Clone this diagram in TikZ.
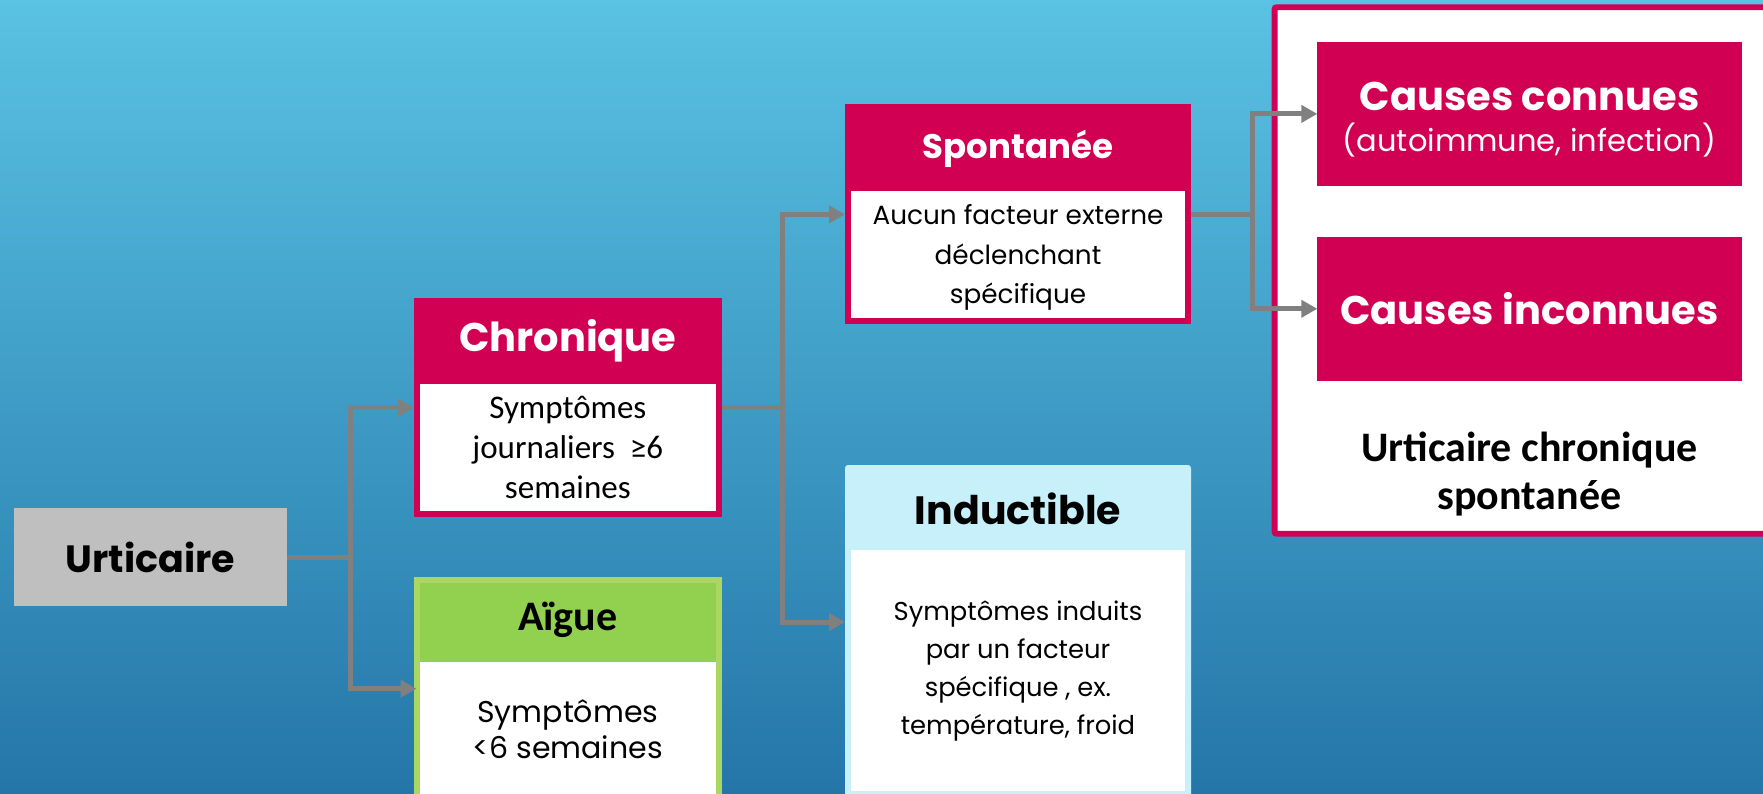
\documentclass[tikz,border=0pt]{standalone}
\usepackage{fontspec}
\setmainfont{Carlito}
\newfontfamily\gothic{Poppins}
\newfontfamily\calib{Carlito}
\usetikzlibrary{arrows.meta}
\definecolor{crim}{RGB}{210,0,82}
\definecolor{grn}{RGB}{146,208,80}
\definecolor{grnb}{RGB}{170,215,96}
\definecolor{lblue}{RGB}{200,240,250}
\definecolor{gry}{RGB}{191,191,191}
\definecolor{conn}{RGB}{128,128,128}
\definecolor{bgtop}{RGB}{90,194,227}
\definecolor{bgbot}{RGB}{36,118,168}
\begin{document}
\begin{tikzpicture}[x=1pt,y=-1pt,
  box/.style={anchor=north west, inner sep=0pt, outer sep=0pt, draw=none},
  txt/.style={inner sep=0pt, outer sep=0pt, align=center},
  arr/.style={draw=conn, line width=5pt, line join=miter,
    -{Triangle[length=16pt,width=17pt]}}]
\useasboundingbox (0,0) rectangle (1763,794);
\clip (0,0) rectangle (1763,794);
\shade[top color=bgtop, bottom color=bgbot] (0,0) rectangle (1763,794);

% Urticaire
\node[box, fill=gry, minimum width=273pt, minimum height=97.4pt] (urt) at (14,508.3) {};
\node[txt, font=\gothic\bfseries\fontsize{38}{42}\selectfont] (urtT) at (urt.center) {Urticaire};

% Chronique
\node[box, fill=crim, minimum width=307.5pt, minimum height=219pt] (chron) at (414,298.3) {};
\node[box, fill=white, minimum width=296pt, minimum height=127.3pt] (chronB) at (419.8,384) {};
\node[txt, text=white, font=\gothic\bfseries\fontsize{40}{44}\selectfont] (chronT) at (567.8,341) {Chronique};
\node[txt, font=\calib\fontsize{33}{40}\selectfont] (chronX) at (chronB.center) {Symptômes\\journaliers\ \ ≥6\\semaines};

% Aigue
\node[box, fill=grn, draw=grnb, line width=6pt, minimum width=302pt, minimum height=240pt] (aig) at (416.5,579.7) {};
\node[box, fill=white, minimum width=296pt, minimum height=140pt] (aigB) at (419.8,661.7) {};
\node[txt, font=\calib\bfseries\fontsize{42}{46}\selectfont] (aigT) at (567.8,620) {Aïgue};
\node[txt, font=\gothic\fontsize{30}{36}\selectfont] (aigX) at (567.8,729) {Symptômes\\<6 semaines};

% Spontanee
\node[box, fill=crim, minimum width=346pt, minimum height=219.1pt] (spont) at (845,104.4) {};
\node[box, fill=white, minimum width=334.6pt, minimum height=127.4pt] (spontB) at (850.7,190.6) {};
\node[txt, text=white, font=\gothic\bfseries\fontsize{34}{38}\selectfont] (spontT) at (1018,149) {Spontanée};
\node[txt, font=\gothic\fontsize{26.3}{39.5}\selectfont] (spontX) at ([yshift=-3.5pt]spontB.center) {Aucun facteur externe\\déclenchant\\spécifique};

% Inductible
\node[box, fill=lblue, rounded corners=3pt, minimum width=346pt, minimum height=340pt] (ind) at (845,465) {};
\node[box, fill=white, minimum width=334.6pt, minimum height=241pt] (indB) at (850.7,550) {};
\node[txt, font=\gothic\bfseries\fontsize{39.5}{43}\selectfont] (indT) at (1018,509) {Inductible};
\node[txt, font=\gothic\fontsize{25.8}{38}\selectfont] (indX) at (1018,671) {Symptômes induits\\par un facteur\\spécifique , ex.\\température, froid};

% Urticaire chronique spontanee frame
\node[box, fill=white, draw=crim, line width=5.8pt, rounded corners=2pt, minimum width=600pt, minimum height=526.5pt] (ucs) at (1274.6,7.2) {};
\node[box, fill=crim, minimum width=424.4pt, minimum height=143.6pt] (cc) at (1317.3,42.1) {};
\node[box, fill=crim, minimum width=424.4pt, minimum height=143.6pt] (ci) at (1317.3,237) {};
\node[txt, text=white, font=\gothic\bfseries\fontsize{40}{44}\selectfont] (ccT) at (1529.5,96.5) {Causes connues};
\node[txt, text=white, font=\gothic\fontsize{30.5}{33}\selectfont] (ccX) at (1529.5,140) {(autoimmune, infection)};
\node[txt, text=white, font=\gothic\bfseries\fontsize{40}{44}\selectfont] (ciT) at (ci.center) {Causes inconnues};
\node[txt, font=\calib\bfseries\fontsize{42}{48}\selectfont] (ucsT) at (1529.5,474) {Urticaire chronique\\spontanée};

% connectors
\draw[arr] (urt.east) -- ++(63.5,0) |- ([yshift=-109.4pt]chron.north west);
\draw[arr] (urt.east) -- ++(63.5,0) |- ([yshift=-109pt]aig.north west);
\draw[arr] ([yshift=-109.4pt]chron.north east) -- ++(61,0) |- ([yshift=-110pt]spont.north west);
\draw[arr] ([yshift=-109.4pt]chron.north east) -- ++(61,0) |- ([yshift=-157pt]ind.north west);
\draw[arr] ([yshift=-110pt]spont.north east) -- ++(61.7,0) |- (cc.west);
\draw[arr] ([yshift=-110pt]spont.north east) -- ++(61.7,0) |- (ci.west);
\end{tikzpicture}
\end{document}
